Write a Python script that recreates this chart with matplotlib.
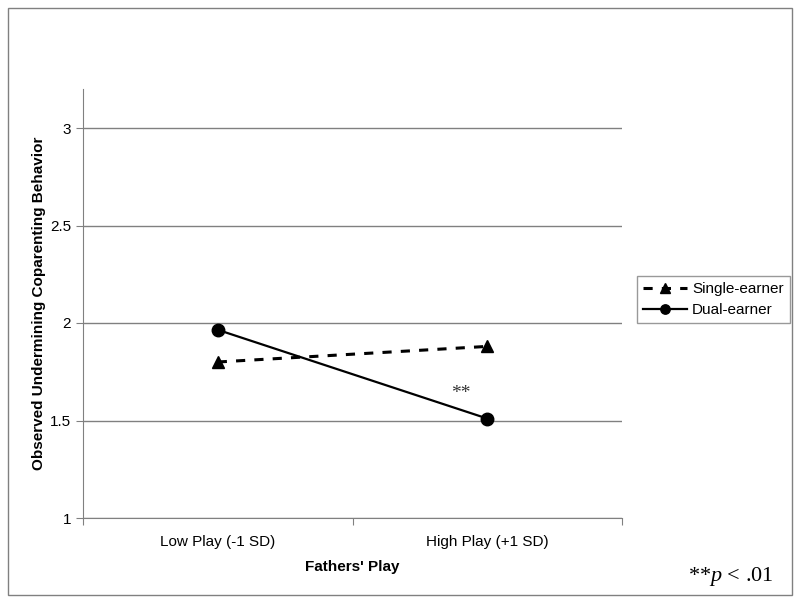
import matplotlib.pyplot as plt
from matplotlib.patches import Rectangle

categories = ["Low Play (-1 SD)", "High Play (+1 SD)"]
single_earner = [1.80, 1.88]
dual_earner = [1.965, 1.51]
yticks = [1, 1.5, 2, 2.5, 3]
ytick_labels = ["1", "1.5", "2", "2.5", "3"]

plt.rcParams["font.family"] = ["Liberation Sans", "DejaVu Sans"]
plt.rcParams["mathtext.fontset"] = "custom"
plt.rcParams["mathtext.rm"] = "Liberation Serif"
plt.rcParams["mathtext.it"] = "Liberation Serif:italic"

fig = plt.figure(figsize=(8, 6.03), dpi=100)
fig.patches.append(Rectangle((8 / 800, 8 / 603), 784 / 800, 587 / 603,
                             transform=fig.transFigure, fill=False,
                             edgecolor="#808080", linewidth=1))

ax = fig.add_axes([83 / 800, 1 - 518 / 603, 539 / 800, 429 / 603])
x = [0, 1]
ax.plot(x, single_earner, color="black", linestyle=(0, (3, 3)), linewidth=2.2,
        marker="^", markersize=9, label="Single-earner")
ax.plot(x, dual_earner, color="black", linestyle="-", linewidth=1.6,
        marker="o", markersize=9, label="Dual-earner")

ax.set_xlim(-0.5, 1.5)
ax.set_ylim(1, 3.2)
ax.set_yticks(yticks)
ax.set_yticklabels(ytick_labels, fontsize=11)
ax.yaxis.grid(True, color="#808080", linewidth=1)
ax.set_axisbelow(True)
ax.set_xticks([-0.5, 0.5, 1.5])
ax.set_xticklabels([])
ax.set_xticks(x, minor=True)
ax.set_xticklabels(categories, minor=True, fontsize=11)
ax.tick_params(axis="x", which="minor", length=0, pad=12)
ax.tick_params(axis="x", which="major", length=5, color="#808080")
ax.tick_params(axis="y", length=5, color="#808080")
for s in ["top", "right"]:
    ax.spines[s].set_visible(False)
for s in ["left", "bottom"]:
    ax.spines[s].set_color("#808080")

ax.set_ylabel("Observed Undermining Coparenting Behavior", fontsize=11,
              fontweight="bold", labelpad=3)
ax.set_xlabel("Fathers' Play", fontsize=11, fontweight="bold", labelpad=8)

ax.text(0.9, 1.64, "**", fontsize=14, family="Liberation Serif",
        color="#333333", ha="center", va="center")

fig.legend(loc="upper left", bbox_to_anchor=(637 / 800, 1 - 276 / 603),
           fontsize=11, frameon=True, fancybox=False, edgecolor="#808080",
           handlelength=2.9, borderaxespad=0, handletextpad=0.3,
           borderpad=0.4, markerscale=0.75, labelspacing=0.45)

fig.text(688 / 800, 1 - 577 / 603, r"**$\mathit{p}$ < .01", fontsize=16,
         family="Liberation Serif", ha="left", va="center")

fig.savefig("out.png", dpi=100)
